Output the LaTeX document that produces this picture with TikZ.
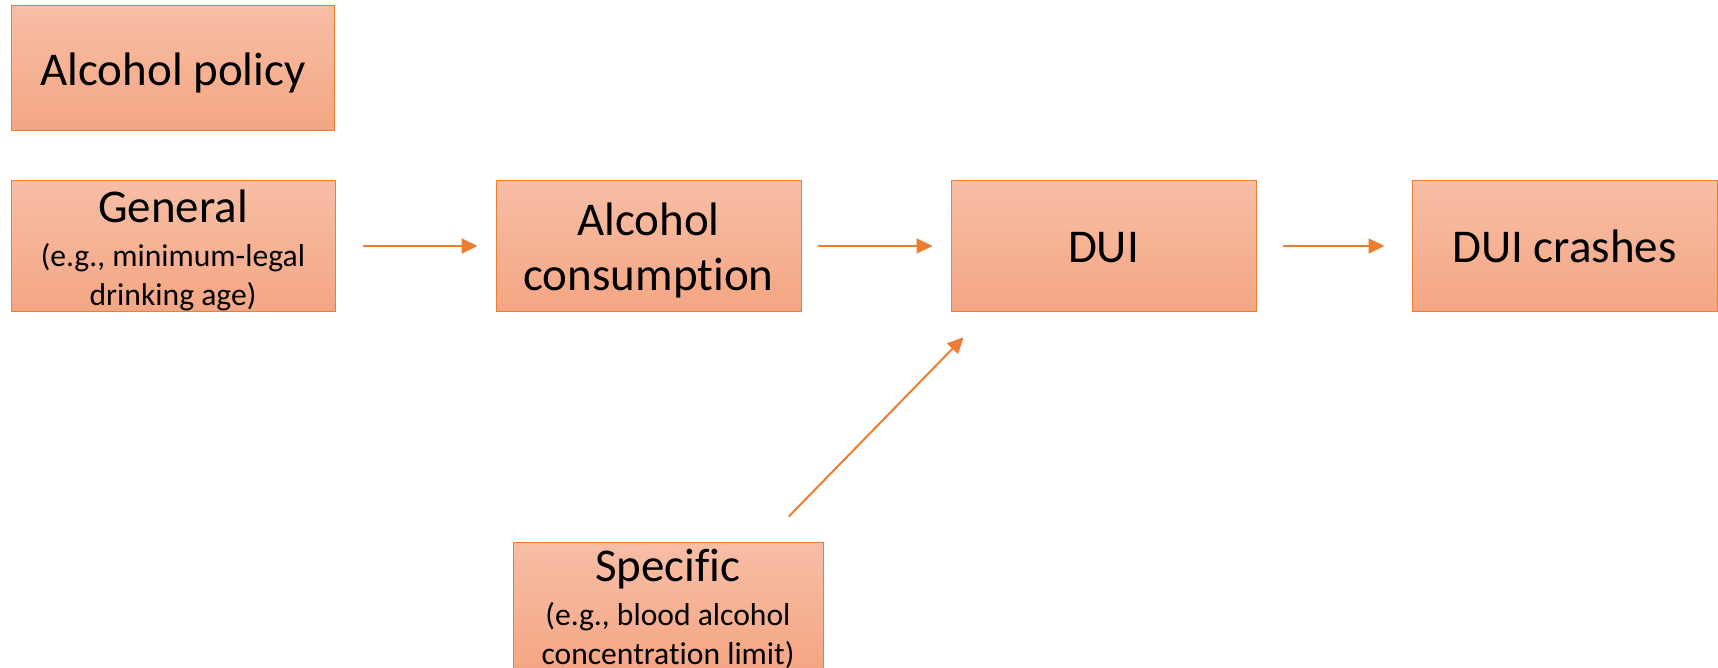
\documentclass[tikz,border=0pt]{standalone}
\usepackage{fontspec}
\setmainfont{Carlito}[Ligatures=NoCommon]
\usetikzlibrary{arrows.meta, positioning, calc}
\definecolor{accent}{HTML}{ED7D31}
\definecolor{boxtop}{HTML}{F7BEA6}
\definecolor{boxbot}{HTML}{F4A683}
\newcommand{\subtext}{\fontsize{15.8pt}{18.5pt}\selectfont}
% struts so the text sits like in the slide
\newcommand{\tstrut}[1][22pt]{\rule{0pt}{#1}}
\newcommand{\bstrut}[1][5pt]{\rule[-#1]{0pt}{#1}}

\begin{document}
\begin{tikzpicture}[
    x=0.5pt, y=-0.5pt,
    box/.style={rectangle, draw=accent, line width=0.5pt, top color=boxtop, bottom color=boxbot,
                minimum width=152.5pt, minimum height=65pt, inner sep=0pt, align=center,
                font=\fontsize{23.5pt}{28pt}\selectfont},
    arr/.style={-{Triangle[length=8pt, width=7.5pt]}, line width=1pt, accent}
  ]
    \useasboundingbox (0,0) rectangle (1718,668);
    \node[box, minimum width=162pt] (gen) at (173,246)
      {\tstrut[21pt]General\\[-6pt]\subtext (e.g., minimum-legal\\[-8.5pt]\subtext drinking age)\bstrut[2.5pt]};
    \node[box, minimum width=161.5pt, minimum height=62.5pt, above=24.5pt of gen] (policy)
      {\tstrut Alcohol policy\bstrut};
    \node[box, right=80pt of gen] (cons) {\tstrut Alcohol\\consumption\bstrut};
    \node[box, right=74.5pt of cons] (dui) {\tstrut DUI\bstrut};
    \node[box, right=77.5pt of dui] (crash) {\tstrut DUI crashes\bstrut};
    \node[box, minimum width=155pt, minimum height=62.5pt, below=115pt of cons, xshift=9.75pt] (spec)
      {\tstrut[19.5pt]Specific\\[-6pt]\subtext (e.g., blood alcohol\\[-8.5pt]\subtext concentration limit)\bstrut[2.5pt]};
    \coordinate (specout) at ($(spec.north west)!0.81!(spec.north east)$);
    \coordinate (duiin) at ($(dui.south west)!0.125!(dui.south east)$);
    \draw[arr, shorten <=13.5pt, shorten >=9pt] (gen) -- (cons);
    \draw[arr, shorten <=8pt, shorten >=9pt] (cons) -- (dui);
    \draw[arr, shorten <=13pt, shorten >=13.5pt] (dui) -- (crash);
    \draw[arr, shorten <=17.5pt, shorten >=18pt] (specout) -- (duiin);
  \end{tikzpicture}
\end{document}
